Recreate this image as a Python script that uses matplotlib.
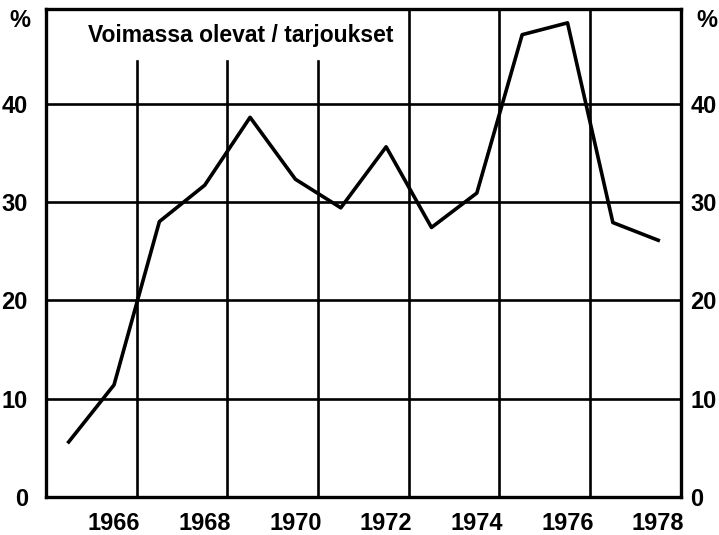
import matplotlib
matplotlib.use("Agg")
import matplotlib.pyplot as plt

# data: share of valid offers (%), by year
years = [1965, 1966, 1967, 1968, 1969, 1970, 1971, 1972, 1973, 1974, 1975, 1976, 1977, 1978]
share = [5.6, 11.4, 28.0, 31.7, 38.6, 32.3, 29.4, 35.6, 27.4, 30.9, 47.0, 48.2, 27.9, 26.1]
tick_years = [1966, 1968, 1970, 1972, 1974, 1976, 1978]
y_ticks = [0, 10, 20, 30, 40]
title = "Voimassa olevat / tarjoukset"

plt.rcParams['font.family'] = ['Liberation Sans', 'DejaVu Sans']
plt.rcParams['font.weight'] = 'bold'

fig = plt.figure(figsize=(7.19, 5.35), dpi=100)
ax = fig.add_axes([0.064, 0.071, 0.883, 0.912])
ax.set_xlim(years[0] - 0.5, years[-1] + 0.5)
ax.set_ylim(0, 49.6)

# horizontal grid
for v in y_ticks[1:]:
    ax.axhline(v, color='black', lw=1.9, zorder=1)
# vertical year-boundary lines, the first three stop below the title
for yr in tick_years[:-1]:
    top = 44.3 if yr < 1971 else 49.6
    ax.plot([yr + 0.5, yr + 0.5], [0, top], color='black', lw=1.9, zorder=1)

ax.plot(years, share, color='black', lw=2.6, zorder=3)

for s in ax.spines.values():
    s.set_linewidth(2.4)

ax.set_xticks(tick_years)
ax.set_xticklabels([str(t) for t in tick_years])
ax.set_yticks(y_ticks)
ax.tick_params(length=0, labelsize=17)
ax.tick_params(axis='x', pad=11)
ax.tick_params(axis='y', pad=13)

# right hand scale
ax2 = ax.twinx()
ax2.set_ylim(ax.get_ylim())
ax2.set_yticks(y_ticks)
ax2.tick_params(length=0, labelsize=17, pad=7)
ax2.spines[:].set_visible(False)

ax.text(0.066, 0.945, title, transform=ax.transAxes, fontsize=16.5,
        fontweight='bold', va='center', ha='left')

fig.text(0.028, 0.962, "%", fontsize=17, fontweight='bold', ha='center', va='center')
fig.text(0.983, 0.962, "%", fontsize=17, fontweight='bold', ha='center', va='center')

fig.savefig("out.png", dpi=100)
